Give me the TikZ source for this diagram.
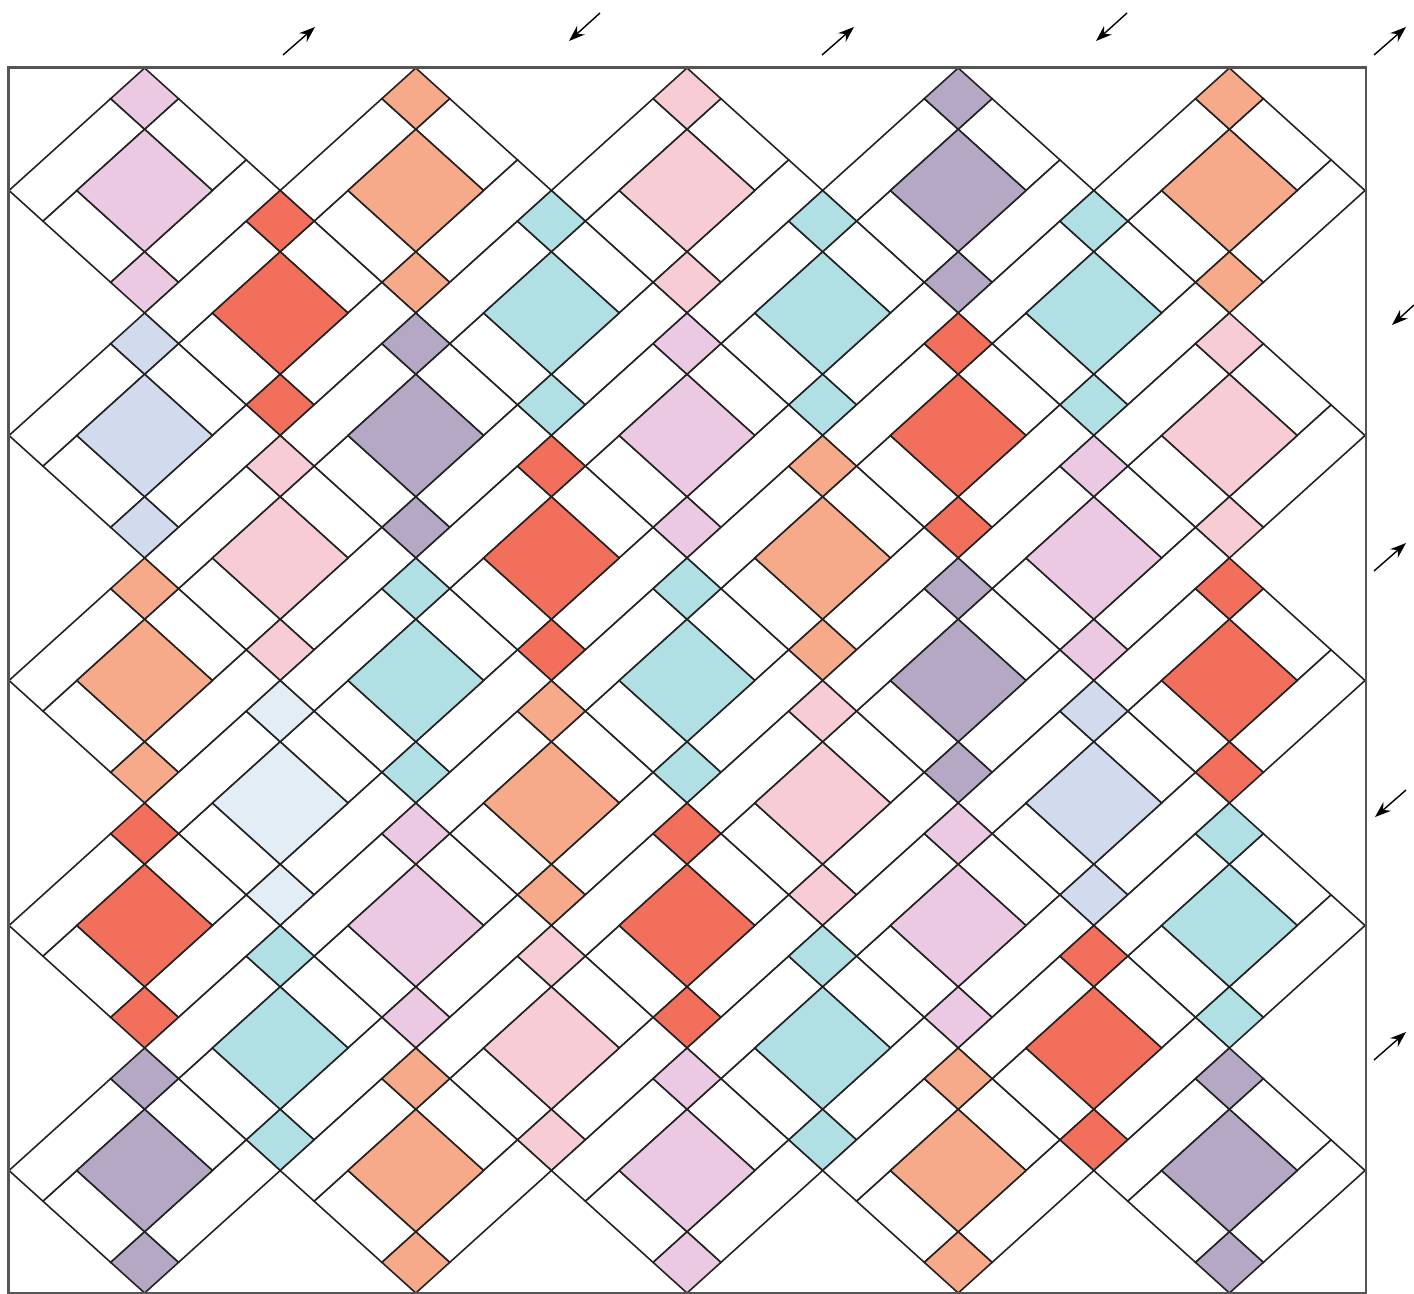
\documentclass[tikz,border=0pt]{standalone}
\usepackage{xcolor}
\usetikzlibrary{arrows.meta}
\definecolor{qLilac}{HTML}{EBC9E2}
\definecolor{qSalmon}{HTML}{F7AA8A}
\definecolor{qPink}{HTML}{F8CCD4}
\definecolor{qPlum}{HTML}{B5A8C5}
\definecolor{qRed}{HTML}{F2705B}
\definecolor{qTeal}{HTML}{B0DFE4}
\definecolor{qBlue}{HTML}{D2DAEE}
\definecolor{qIce}{HTML}{E3EDF6}
\definecolor{qInk}{HTML}{222222}
\definecolor{qFrame}{HTML}{555555}
\tikzset{
  patch/.style={draw=qInk, line width=0.9pt, line join=miter},
  strip/.style={patch, fill=white},
  frame/.style={draw=qFrame, line width=1.3pt},
  % pressing direction, drawn beside the quilt
  dirarrow/.style={-{Stealth[length=3.2mm, width=2.3mm]}, line width=0.8pt},
  % one quarter of a block along its two diagonal sides
  quarter/.style={x={(6.78mm,-6.125mm)}, y={(-6.78mm,-6.125mm)}},
}
% one block on point: #1 column, #2 half-row, #3 fabric
\newcommand{\qblock}[3]{%
  \begin{scope}[shift={({144.6+135.6*#1},{68+122.5*#2})}]
  \begin{scope}[quarter]
    \draw[strip] (1,0) -- (3,0) -- (3,1) -- (1,1) -- cycle;
    \draw[strip] (3,0) -- (4,0) -- (4,3) -- (3,3) -- cycle;
    \draw[strip] (1,3) -- (3,3) -- (3,4) -- (1,4) -- cycle;
    \draw[strip] (0,1) -- (1,1) -- (1,4) -- (0,4) -- cycle;
    \draw[patch, fill=#3] (0,0) -- (1,0) -- (1,1) -- (0,1) -- cycle;
    \draw[patch, fill=#3] (1,1) -- (3,1) -- (3,3) -- (1,3) -- cycle;
    \draw[patch, fill=#3] (3,3) -- (4,3) -- (4,4) -- (3,4) -- cycle;
  \end{scope}
  \end{scope}}

\begin{document}
\begin{tikzpicture}[x=0.2mm, y=-0.2mm]
\useasboundingbox (0,0) rectangle (1414,1294);

%% ── the blocks ────────────────────────────────────────────────────────────
\foreach \i/\j/\col in {
    0/0/qLilac, 2/0/qSalmon, 4/0/qPink, 6/0/qPlum, 8/0/qSalmon,
    1/1/qRed, 3/1/qTeal, 5/1/qTeal, 7/1/qTeal,
    0/2/qBlue, 2/2/qPlum, 4/2/qLilac, 6/2/qRed, 8/2/qPink,
    1/3/qPink, 3/3/qRed, 5/3/qSalmon, 7/3/qLilac,
    0/4/qSalmon, 2/4/qTeal, 4/4/qTeal, 6/4/qPlum, 8/4/qRed,
    1/5/qIce, 3/5/qSalmon, 5/5/qPink, 7/5/qBlue,
    0/6/qRed, 2/6/qLilac, 4/6/qRed, 6/6/qLilac, 8/6/qTeal,
    1/7/qTeal, 3/7/qPink, 5/7/qTeal, 7/7/qRed,
    0/8/qPlum, 2/8/qSalmon, 4/8/qLilac, 6/8/qSalmon, 8/8/qPlum}
  {\qblock{\i}{\j}{\col}}

%% ── the quilt edge ────────────────────────────────────────────────────────
\draw[frame] (8.5,67.5) rectangle (1366,1293.5);

%% ── direction arrows ──────────────────────────────────────────────────────
\draw[dirarrow] (283,55) -- (315,27);
\draw[dirarrow] (600,13) -- (569,41);
\draw[dirarrow] (822,55) -- (854,27);
\draw[dirarrow] (1127,13) -- (1096,41);
\draw[dirarrow] (1374,55) -- (1406,27);
\draw[dirarrow] (1414,305) -- (1392,325);
\draw[dirarrow] (1374,571) -- (1406,543);
\draw[dirarrow] (1406,790) -- (1375,817);
\draw[dirarrow] (1374,1060) -- (1406,1032);

\end{tikzpicture}
\end{document}
